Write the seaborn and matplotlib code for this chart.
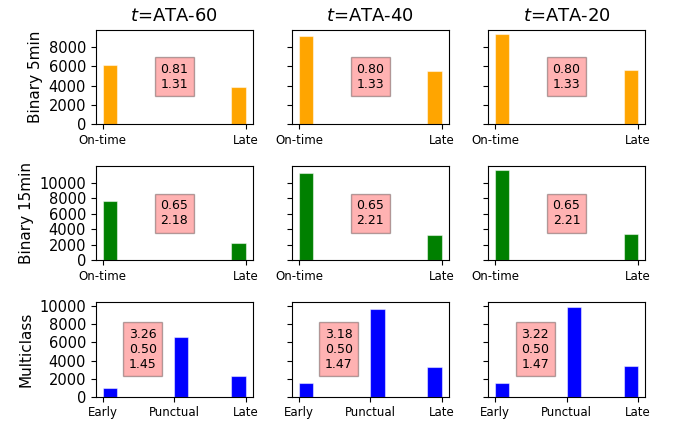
import numpy as np
import pandas as pd
import matplotlib
matplotlib.use("Agg")
import matplotlib.pyplot as plt
import seaborn as sns

horizons = ["ATA-60", "ATA-40", "ATA-20"]
binary_labels = ["On-time", "Late"]
multi_labels = ["Early", "Punctual", "Late"]

# counts, one list per horizon
b5_counts = [[6150, 3820], [9170, 5520], [9375, 5625]]
b15_counts = [[7610, 2190], [11320, 3265], [11600, 3355]]
multi_counts = [[995, 6570, 2255], [1480, 9700, 3285], [1500, 9945, 3400]]

# numbers shown in the pink boxes
b5_text = [["0.81", "1.31"], ["0.80", "1.33"], ["0.80", "1.33"]]
b15_text = [["0.65", "2.18"], ["0.65", "2.21"], ["0.65", "2.21"]]
multi_text = [["3.26", "0.50", "1.45"], ["3.18", "0.50", "1.47"], ["3.22", "0.50", "1.47"]]

rows = [
    ("Binary 5min", b5_counts, b5_text, binary_labels, "orange", 0.5),
    ("Binary 15min", b15_counts, b15_text, binary_labels, "green", 0.5),
    ("Multiclass", multi_counts, multi_text, multi_labels, "blue", 0.3),
]

fig, axes = plt.subplots(3, 3, figsize=(6.74, 4.28), dpi=100, sharey="row")

for r, (ylab, counts, texts, labels, color, tx) in enumerate(rows):
    for c, h in enumerate(horizons):
        ax = axes[r, c]
        df = pd.DataFrame({"cls": np.arange(len(labels)), "n": counts[c]})
        sns.histplot(
            data=df, x="cls", weights="n",
            bins=10, binrange=(0, len(labels) - 1),
            color=color, alpha=1, edgecolor=(1, 1, 1, 0.5), linewidth=0.8,
            ax=ax,
        )
        ax.set_xticks(range(len(labels)))
        ax.set_xticklabels(labels, fontsize=8.5)
        ax.tick_params(axis="y", labelsize=10.5)
        ax.set_xlabel("")
        ax.set_ylabel(ylab if c == 0 else "", fontsize=11)
        ax.text(tx, 0.5, "\n".join(texts[c]), transform=ax.transAxes,
                ha="center", va="center", fontsize=9,
                bbox=dict(facecolor="red", alpha=0.3))
        if r == 0:
            ax.set_title(f"$t$=ATA-{h[-2:]}", fontsize=13)

axes[0, 0].set_yticks([0, 2000, 4000, 6000, 8000])
axes[1, 0].set_yticks([0, 2000, 4000, 6000, 8000, 10000])
axes[2, 0].set_yticks([0, 2000, 4000, 6000, 8000, 10000])
for r in range(3):
    axes[r, 0].autoscale(axis="y")

plt.subplots_adjust(left=0.142, right=0.957, top=0.931, bottom=0.073, hspace=0.44, wspace=0.25)
plt.savefig("out.png", dpi=100)
